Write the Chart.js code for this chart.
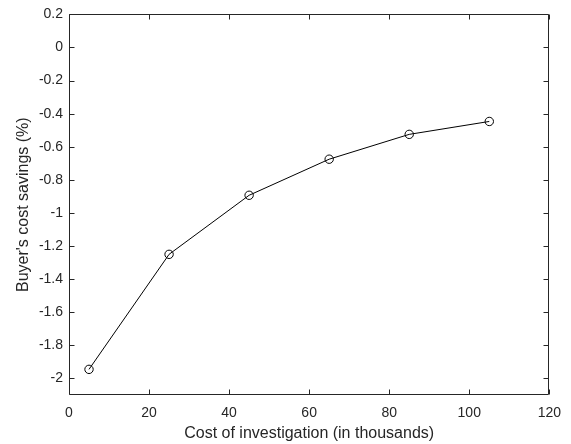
<!DOCTYPE html>
<html>
<head>
<meta charset="utf-8">
<script src="https://cdn.jsdelivr.net/npm/chart.js@4/dist/chart.umd.min.js"></script>
<style>
  html, body { margin: 0; padding: 0; background: #ffffff; }
  #wrap { width: 571px; height: 444px; position: relative; }
</style>
</head>
<body>
<div id="wrap"><canvas id="c"></canvas></div>
<script>
// ---- data ----
const investmentCost = [5, 25, 45, 65, 85, 105];
const buyerSavings = [-1.945, -1.25, -0.893, -0.675, -0.525, -0.447];
const xTickValues = [0, 20, 40, 60, 80, 100, 120];
const xTickLabels = ['0', '20', '40', '60', '80', '100', '120'];
const yTickValues = [0.2, 0, -0.2, -0.4, -0.6, -0.8, -1, -1.2, -1.4, -1.6, -1.8, -2];
const yTickLabels = ['0.2', '0', '-0.2', '-0.4', '-0.6', '-0.8', '-1', '-1.2', '-1.4', '-1.6', '-1.8', '-2'];
const xTitle = 'Cost of investigation (in thousands)';
const yTitle = "Buyer's cost savings (%)";

const AX = '#262626';
const FONT = '"Liberation Sans", Arial, Helvetica, sans-serif';

const points = investmentCost.map((x, i) => ({ x: x, y: buyerSavings[i] }));

function labelFor(values, labels, v) {
  for (let i = 0; i < values.length; i++) {
    if (Math.abs(values[i] - v) < 1e-9) return labels[i];
  }
  return '';
}

const boxPlugin = {
  id: 'matlabBox',
  afterDraw(chart) {
    const ctx = chart.ctx;
    const a = chart.chartArea;
    const xs = chart.scales.x, ys = chart.scales.y;
    const L = Math.round(a.left) + 0.5, R = Math.round(a.right) - 0.5;
    const T = Math.round(a.top) + 0.5, B = Math.round(a.bottom) - 0.5;
    const tl = 5;
    ctx.save();
    ctx.strokeStyle = AX;
    ctx.lineWidth = 1;
    ctx.beginPath();
    ctx.rect(L, T, R - L, B - T);
    xTickValues.forEach(v => {
      const px = Math.round(xs.getPixelForValue(v)) + 0.5;
      ctx.moveTo(px, B); ctx.lineTo(px, B - tl);
      ctx.moveTo(px, T); ctx.lineTo(px, T + tl);
    });
    yTickValues.forEach(v => {
      const py = Math.round(ys.getPixelForValue(v)) + 0.5;
      ctx.moveTo(L, py); ctx.lineTo(L + tl, py);
      ctx.moveTo(R, py); ctx.lineTo(R - tl, py);
    });
    ctx.stroke();
    ctx.restore();
  }
};

new Chart(document.getElementById('c'), {
  type: 'scatter',
  data: {
    datasets: [{
      data: points,
      showLine: true,
      borderColor: '#000000',
      borderWidth: 1,
      backgroundColor: 'rgba(0,0,0,0)',
      pointRadius: 4.2,
      pointBorderWidth: 1,
      pointBorderColor: '#000000',
      pointBackgroundColor: 'rgba(0,0,0,0)',
      pointHoverRadius: 4.2,
      tension: 0
    }]
  },
  options: {
    responsive: true,
    maintainAspectRatio: false,
    animation: false,
    layout: { padding: { top: 14, right: 19, left: 0, bottom: 0 } },
    plugins: { legend: { display: false }, tooltip: { enabled: false } },
    scales: {
      x: {
        type: 'linear',
        min: 0, max: 120,
        grid: { display: false, drawTicks: false },
        border: { display: false },
        afterBuildTicks(s) { s.ticks = xTickValues.map(v => ({ value: v })); },
        afterFit(s) { s.height = 49; },
        ticks: {
          color: AX,
          padding: 10,
          maxRotation: 0,
          font: { family: FONT, size: 14 },
          callback: v => labelFor(xTickValues, xTickLabels, v)
        },
        title: {
          display: true,
          text: xTitle,
          color: AX,
          font: { family: FONT, size: 16 },
          padding: { top: 0, bottom: 1 }
        }
      },
      y: {
        type: 'linear',
        min: -2.1, max: 0.2,
        grid: { display: false, drawTicks: false },
        border: { display: false },
        afterBuildTicks(s) { s.ticks = yTickValues.map(v => ({ value: v })); },
        afterFit(s) { s.width = 69; },
        ticks: {
          color: AX,
          padding: 6,
          font: { family: FONT, size: 14 },
          callback: v => labelFor(yTickValues, yTickLabels, v)
        },
        title: {
          display: true,
          text: yTitle,
          color: AX,
          font: { family: FONT, size: 16 },
          padding: { top: 14, bottom: 0 }
        }
      }
    }
  },
  plugins: [boxPlugin]
});
</script>
</body>
</html>
